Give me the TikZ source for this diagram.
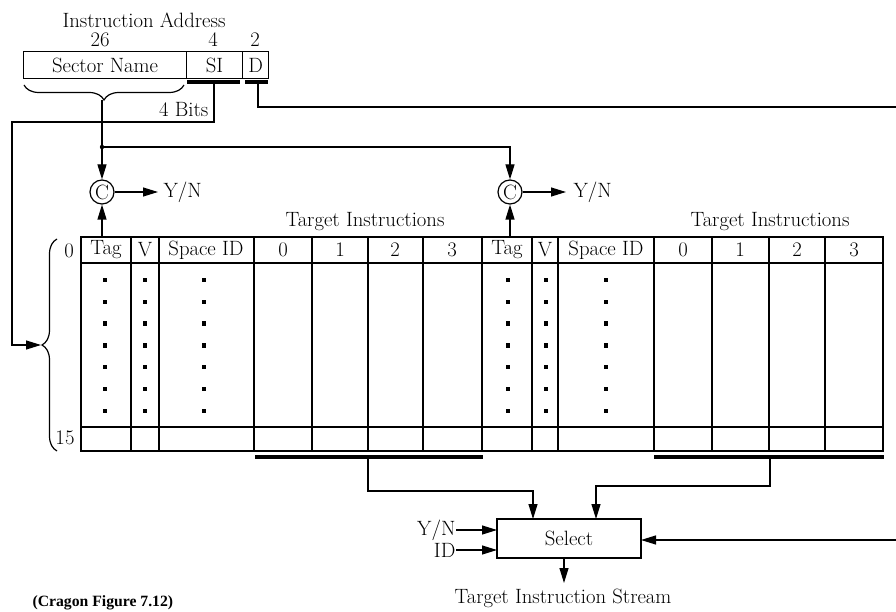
\documentclass[tikz,border=0pt]{standalone}
\usepackage{fontspec}
\newfontfamily\capfont{Liberation Serif}
\usetikzlibrary{arrows.meta,decorations.pathreplacing}
\begin{document}
\begin{tikzpicture}[x=1pt,y=-1pt, line width=1.2pt,
  txt/.style={font=\fontsize{20.7}{22}\selectfont, inner sep=0pt},
  arr/.style={-{Triangle[length=15pt,width=9pt]}},
  barline/.style={line width=3.5pt},
  fieldbox/.style={draw, txt, anchor=north west, minimum height=27pt},
  cmpc/.style={circle, draw, txt, minimum size=24pt, inner sep=0pt},
  bracedec/.style={decorate, decoration={brace, amplitude=15pt}}]
\useasboundingbox (0,0) rectangle (896,612);

% ---- instruction address ----
\node[txt] (ia) at (144,20) {Instruction Address};
\node[txt] (n26) at (100,40) {26};
\node[txt] (n4) at (213,40) {4};
\node[txt] (n2) at (255,40) {2};
\node[fieldbox, minimum width=163pt] (sn) at (23,51) {Sector Name};
\node[fieldbox, minimum width=56pt] (si) at (186,51) {SI};
\node[fieldbox, minimum width=26pt] (dd) at (242,51) {D};

\draw[barline] (187,82) -- (240,82);
\draw[barline] (245,82) -- (268,82);
\coordinate (sibar) at (214,82);
\coordinate (dbar) at (258,82);

% sector name brace
\draw[bracedec] (184,85) -- (24,85);
\coordinate (btip) at (102,100);
\coordinate (junc) at (102,147);

% comparators
\node[cmpc] (c1) at (102,192) {C};
\node[cmpc] (c2) at (510,192) {C};
\node[txt, anchor=west] (yn1) at (163,192) {Y/N};
\node[txt, anchor=west] (yn2) at (573,192) {Y/N};
\draw[arr, shorten >=5pt] (c1.east) -- (yn1.west);
\draw[arr, shorten >=7pt] (c2.east) -- (yn2.west);

\draw (btip) -- (junc);
\draw[arr] (junc) -- (c1.north);
\draw[arr] (junc) -- (510,147) -- (c2.north);
\fill (junc) circle (2.2pt);

% 4 bits path
\node[txt, anchor=east] (fb) at (209,110) {4 Bits};
\coordinate (ltip) at (41,345);
\draw[arr] (sibar) -- (214,122) -- (12,122) -- (12,345) -- (ltip);

% D path
\coordinate (dright) at (896,107);
\draw (dbar) -- (258,107) -- (dright);

% ---- table ----
\draw (81,237) rectangle (883,451);
\draw (81,263) -- (883,263);
\draw (81,427) -- (883,427);
\foreach \xx in {131,159,254,312,368,423,532,558,654,712,769,825}
  \draw (\xx,237) -- (\xx,451);
\draw[line width=2.2pt] (482,237) -- (482,451);

\node[txt] (h1) at (106,250) {Tag};
\node[txt] (h2) at (145,250) {V};
\node[txt] (h3) at (206,250) {Space ID};
\node[txt] (h4) at (283,250) {0};
\node[txt] (h5) at (340,250) {1};
\node[txt] (h6) at (395,250) {2};
\node[txt] (h7) at (452,250) {3};
\node[txt] (k1) at (507,250) {Tag};
\node[txt] (k2) at (545,250) {V};
\node[txt] (k3) at (606,250) {Space ID};
\node[txt] (k4) at (683,250) {0};
\node[txt] (k5) at (740,250) {1};
\node[txt] (k6) at (797,250) {2};
\node[txt] (k7) at (854,250) {3};

\node[txt] (ti1) at (365,222) {Target Instructions};
\node[txt] (ti2) at (770,222) {Target Instructions};

\coordinate (tag1) at (102,237);
\coordinate (tag2) at (510,237);
\draw[arr] (tag1) -- (c1.south);
\draw[arr] (tag2) -- (c2.south);

\foreach \xx in {105,145,204,508,546,606}
  \foreach \k in {0,...,6}
    \fill ({\xx-2.2},{280+21.8*\k-2.2}) rectangle ({\xx+2.2},{280+21.8*\k+2.2});

% left brace and row labels
\draw[bracedec] (57,451) -- (57,239);
\node[txt] (r0) at (69,251) {0};
\node[txt] (r15) at (65,438) {15};

% ---- select ----
\draw[barline] (255,457) -- (483,457);
\draw[barline] (654,457) -- (884,457);
\coordinate (tb1) at (368,457);
\coordinate (tb2) at (770,457);

\node[draw, txt, minimum width=144pt, minimum height=39pt] (sel) at (569,538.5) {Select};
\coordinate (sin1) at (533,519);
\coordinate (sin2) at (596,519);
\draw[arr] (tb1) -- (368,491) -- (533,491) -- (sin1);
\draw[arr] (tb2) -- (770,486) -- (596,486) -- (sin2);

\node[txt, anchor=east] (yn3) at (456,530) {Y/N};
\node[txt, anchor=east] (idl) at (456,550) {ID};
\coordinate (sw1) at (497,530);
\coordinate (sw2) at (497,550);
\draw[arr] (yn3.east) -- (sw1);
\draw[arr] (idl.east) -- (sw2);

\coordinate (rin) at (896,540);
\draw[arr] (rin) -- (641,540);

\coordinate (sout) at (564,558);
\node[txt] (tis) at (563,598) {Target Instruction Stream};
\draw[arr] (sout) -- (564,583);

\node[font=\capfont\bfseries\fontsize{15.7}{17}\selectfont, inner sep=0pt, anchor=west] (cap) at (32,603) {(Cragon Figure 7.12)};
\end{tikzpicture}
\end{document}
